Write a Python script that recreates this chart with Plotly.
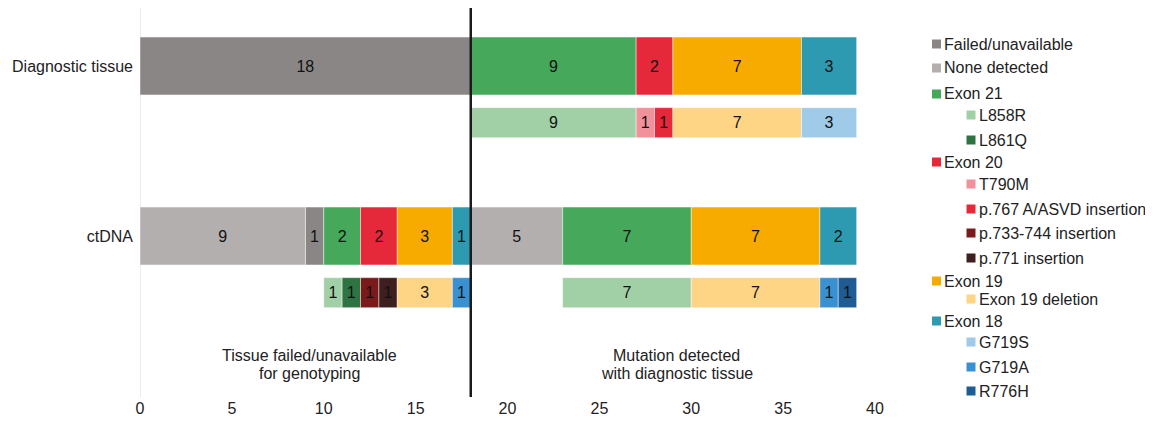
import plotly.graph_objects as go

# ---------------- data ----------------
row_names = ["Diagnostic tissue", "Diagnostic subtype", "ctDNA", "ctDNA subtype"]
row_pos = [0, 1, 3, 4]
row_thickness = [1.02, 0.53, 1.02, 0.53]

categories = ["Failed/unavailable", "None detected", "Exon 21", "L858R", "L861Q",
              "Exon 20", "T790M", "p.767 A/ASVD insertion", "p.733-744 insertion",
              "p.771 insertion", "Exon 19", "Exon 19 deletion", "Exon 18",
              "G719S", "G719A", "R776H"]
cat_colors = ["#8b8686", "#b4afaf", "#45a85b", "#a1d0a6", "#2e7442",
              "#e5283a", "#f0919b", "#e5283a", "#7a1a1a",
              "#3d1f20", "#f7ab00", "#fdd584", "#2e9ab2",
              "#9fcbe8", "#3a91d2", "#1f5c93"]
legend_indent = [0, 0, 0, 1, 1, 0, 1, 1, 1, 1, 0, 1, 0, 1, 1, 1]

# segments: row, category, start, count
seg_row = ["Diagnostic tissue"] * 5 + ["Diagnostic subtype"] * 5 + ["ctDNA"] * 10 + ["ctDNA subtype"] * 10
seg_cat = ["Failed/unavailable", "Exon 21", "Exon 20", "Exon 19", "Exon 18",
           "L858R", "T790M", "p.767 A/ASVD insertion", "Exon 19 deletion", "G719S",
           "None detected", "Failed/unavailable", "Exon 21", "Exon 20", "Exon 19", "Exon 18",
           "None detected", "Exon 21", "Exon 19", "Exon 18",
           "L858R", "L861Q", "p.733-744 insertion", "p.771 insertion", "Exon 19 deletion", "G719A",
           "L858R", "Exon 19 deletion", "G719A", "R776H"]
seg_start = [0, 18, 27, 29, 36,
             18, 27, 28, 29, 36,
             0, 9, 10, 12, 14, 17,
             18, 23, 30, 37,
             10, 11, 12, 13, 14, 17,
             23, 30, 37, 38]
seg_count = [18, 9, 2, 7, 3,
             9, 1, 1, 7, 3,
             9, 1, 2, 2, 3, 1,
             5, 7, 7, 2,
             1, 1, 1, 1, 3, 1,
             7, 7, 1, 1]

x_ticks = [0, 5, 10, 15, 20, 25, 30, 35, 40]
split_at = 18
region_lines = [["Tissue failed/unavailable", "for genotyping"],
                ["Mutation detected", "with diagnostic tissue"]]
region_x = [9.25, 29.2]

# ---------------- figure ----------------
FONT = "Liberation Sans, Arial, sans-serif"
OFF = 8  # page body margin
W, H = 1153 - OFF, 423 - OFF
ML, MT = 132, 0
PW, PH = 735, 389
MR, MB = W - ML - PW, H - MT - PH
UNIT = 56.67
ROW0 = 66 - OFF - MT

fig = go.Figure()
pos_of = dict(zip(row_names, row_pos))
thick_of = dict(zip(row_names, row_thickness))
for cat, col in zip(categories, cat_colors):
    idx = [i for i, c in enumerate(seg_cat) if c == cat]
    if not idx:
        continue
    fig.add_trace(go.Bar(
        orientation="h",
        y=[pos_of[seg_row[i]] for i in idx],
        x=[seg_count[i] for i in idx],
        base=[seg_start[i] for i in idx],
        width=[thick_of[seg_row[i]] for i in idx],
        text=[str(seg_count[i]) for i in idx],
        textposition="inside",
        insidetextanchor="middle",
        textangle=0,
        constraintext="none",
        textfont=dict(family=FONT, size=16, color="#111111"),
        marker=dict(color=col, line=dict(color="rgba(255,255,255,0.55)", width=0.8)),
        name=cat,
        showlegend=False,
        hoverinfo="skip",
    ))

ymin = (0 - ROW0) / UNIT
ymax = (PH - ROW0) / UNIT

fig.update_layout(
    width=W, height=H,
    margin=dict(l=ML, r=MR, t=MT, b=MB, pad=0),
    plot_bgcolor="white", paper_bgcolor="white",
    barmode="overlay",
    font=dict(family=FONT, size=16, color="#222222"),
    xaxis=dict(range=[0, 40], tickvals=x_ticks, showgrid=False, zeroline=False,
               showline=False, ticks="", tickfont=dict(size=16, color="#222222"),
               fixedrange=True),
    yaxis=dict(range=[ymax, ymin], tickvals=[0, 3], ticktext=["Diagnostic tissue", "ctDNA"],
               showgrid=False, zeroline=False, showline=False, ticks="",
               ticklabelstandoff=6, tickfont=dict(size=16, color="#222222")),
)

# faint axis line at x=0 and black split line
fig.add_shape(type="line", xref="x", yref="paper", x0=0, x1=0, y0=0, y1=1,
              line=dict(color="#e6e6e6", width=1.5), layer="below")
fig.add_shape(type="line", xref="x", yref="paper", x0=split_at, x1=split_at, y0=0, y1=1,
              line=dict(color="#1a1a1a", width=2.5), layer="above")

def scr_to_paper(px, py):
    return (px - OFF - ML) / PW, (MT + PH - (py - OFF)) / PH

# region labels (each line placed separately for tight line spacing)
line_y_px = [355, 373]
for lines, xv in zip(region_lines, region_x):
    for txt, py in zip(lines, line_y_px):
        _, yp = scr_to_paper(0, py)
        fig.add_annotation(x=xv, y=yp, xref="x", yref="paper", text=txt, showarrow=False,
                           yanchor="middle",
                           font=dict(family=FONT, size=16, color="#222222"), align="center")

# custom legend (with indented sub-items)
legend_y_px = [44, 68, 94, 115, 140, 162, 184, 209, 233, 258, 281, 299, 321, 342, 367, 391]
for lab, col, ind, py in zip(categories, cat_colors, legend_indent, legend_y_px):
    cx = 971 if ind else 936.5
    tx = 977 if ind else 942
    x0, y0 = scr_to_paper(cx - 4.5, py + 4.5)
    x1, y1 = scr_to_paper(cx + 4.5, py - 4.5)
    fig.add_shape(type="rect", xref="paper", yref="paper", x0=x0, x1=x1, y0=y0, y1=y1,
                  fillcolor=col, line=dict(width=0))
    ax, ay = scr_to_paper(tx, py)
    fig.add_annotation(x=ax, y=ay, xref="paper", yref="paper", text=lab, showarrow=False,
                       xanchor="left", yanchor="middle",
                       font=dict(family=FONT, size=16, color="#222222"))

fig.write_html("out.html")
